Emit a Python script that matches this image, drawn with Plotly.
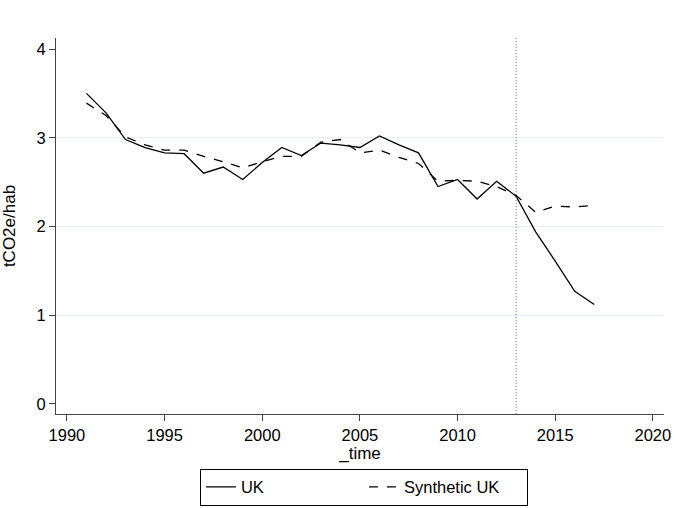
import plotly.graph_objects as go

years = list(range(1991, 2018))
uk = [3.50, 3.28, 2.98, 2.89, 2.83, 2.82, 2.60, 2.67, 2.53, 2.72, 2.89, 2.80,
      2.94, 2.92, 2.89, 3.02, 2.92, 2.83, 2.45, 2.53, 2.31, 2.51, 2.34, 1.94,
      1.61, 1.27, 1.12]
synthetic_uk = [3.39, 3.25, 3.01, 2.92, 2.86, 2.86, 2.79, 2.73, 2.66, 2.73, 2.79, 2.79,
                2.95, 2.98, 2.83, 2.86, 2.78, 2.71, 2.51, 2.52, 2.51, 2.45, 2.35, 2.16,
                2.23, 2.22, 2.24]
treatment_year = 2013
x_ticks = [1990, 1995, 2000, 2005, 2010, 2015, 2020]
y_ticks = [0, 1, 2, 3, 4]
grid_vals = [1, 2, 3]

FONT = "Liberation Sans, Arial, sans-serif"

fig = go.Figure()
fig.add_trace(go.Scatter(x=years, y=uk, mode="lines", name="UK",
                         line=dict(color="black", width=1.3)))
fig.add_trace(go.Scatter(x=years, y=synthetic_uk, mode="lines", name="Synthetic UK",
                         line=dict(color="black", width=1.3, dash="dash")))
# invisible trace to activate grid axis
fig.add_trace(go.Scatter(x=[years[0]], y=[uk[0]], mode="lines", yaxis="y2",
                         showlegend=False, hoverinfo="skip",
                         line=dict(color="rgba(0,0,0,0)")))

fig.add_vline(x=treatment_year, line=dict(color="#777777", width=1, dash="1px,2px"))

yrange = [-0.113, 4.124]
fig.update_layout(
    width=680, height=508,
    margin=dict(l=56, r=9, t=38, b=94),
    paper_bgcolor="white", plot_bgcolor="white",
    font=dict(family=FONT, size=17, color="black"),
    xaxis=dict(range=[1989.44, 2020.57], tickvals=x_ticks, ticks="outside",
               ticklen=6, tickcolor="#444", showline=True, linecolor="#444",
               linewidth=1, showgrid=False, zeroline=False,
               title=dict(text="_time", standoff=3, font=dict(size=17)),
               tickfont=dict(size=16.5)),
    yaxis=dict(range=yrange, tickvals=y_ticks, ticks="outside", ticklen=6,
               tickcolor="#444", showline=True, linecolor="#444", linewidth=1,
               showgrid=False, zeroline=False,
               title=dict(text="tCO2e/hab", standoff=16, font=dict(size=17)),
               tickfont=dict(size=16.5)),
    yaxis2=dict(range=yrange, overlaying="y", tickvals=grid_vals, showgrid=True,
                gridcolor="#e6eef1", gridwidth=1, showticklabels=False,
                zeroline=False, showline=False, layer="below traces"),
    legend=dict(orientation="h", x=0.5065, xanchor="center",
                yref="container", y=0.0045, yanchor="bottom",
                bordercolor="black", borderwidth=1, font=dict(size=16.5),
                entrywidth=118, entrywidthmode="pixels"),
    showlegend=True,
)

fig.write_html(
    "out.html",
    config={"displayModeBar": False},
    post_script=("document.body.style.margin='0px';"
                 "document.body.style.overflow='hidden';"),
)
